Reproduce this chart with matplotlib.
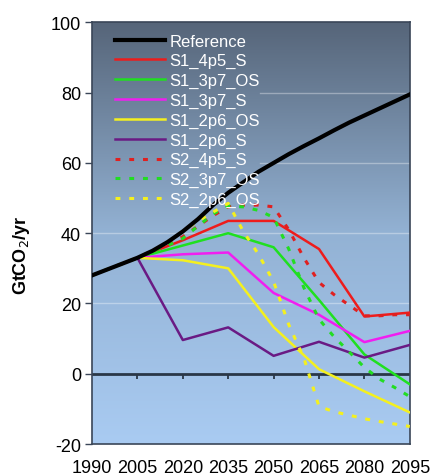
import numpy as np
import matplotlib
matplotlib.use("Agg")
import matplotlib.pyplot as plt
from matplotlib.colors import LinearSegmentedColormap

plt.rcParams['font.family'] = ['Liberation Sans', 'DejaVu Sans']
plt.rcParams['axes.unicode_minus'] = False

# ----------------------------------------
# Data (GtCO2/yr)
# ----------------------------------------
years_s1 = [1990, 2005, 2020, 2035, 2050, 2065, 2080, 2095]
years_fine = [1990, 2005, 2010, 2015, 2020, 2025, 2030, 2035, 2040, 2045, 2050,
              2055, 2060, 2065, 2070, 2075, 2080, 2085, 2090, 2095]

reference = [28, 33, 35, 37.5, 40.5, 44, 48, 51.5, 54.5, 57.5, 60,
             62.5, 64.8, 67, 69.3, 71.5, 73.5, 75.5, 77.5, 79.5]

s1_4p5_s = [28, 33, 38, 43.5, 43.5, 35.5, 16.3, 17.4]
s1_3p7_os = [28, 33, 36.5, 40, 36, 21, 5.5, -3]
s1_3p7_s = [28, 33, 34, 34.5, 23, 16.8, 9, 12.2]
s1_2p6_os = [28, 33, 32.3, 30, 13.3, 1.3, -5, -11]
s1_2p6_s = [28, 33, 9.6, 13.2, 5.1, 9.1, 4.6, 8.2]

s2_4p5_s = [28, 33, 35, 37, 39, 42, 45, 47.5, 48, 48, 47.5,
            41, 33, 26, 22.5, 19.5, 16.5, 16.5, 16.8, 16.8]
s2_3p7_os = [28, 33, 35, 36.5, 38.5, 42, 45.5, 47.7, 47.5, 46.5, 44.5,
             35.5, 24.5, 15.5, 10.5, 6.2, 1.8, -1.5, -3.9, -6.5]
s2_2p6_os = [28, 33, 35, 37.5, 40.5, 43.5, 46, 48.5, 40.5, 34, 26.2,
             14, 4.5, -9.3, -10.8, -11.8, -12.8, -13.6, -14.3, -15]

xticks = [1990, 2005, 2020, 2035, 2050, 2065, 2080, 2095]
yticks = [-20, 0, 20, 40, 60, 80, 100]

# ----------------------------------------
# Plot
# ----------------------------------------
fig = plt.figure(figsize=(4.30, 4.77), dpi=100)
ax = fig.add_axes([0.214, 0.067, 0.739, 0.884])

# gradient background
bg = LinearSegmentedColormap.from_list("bg", ["#a9cbf2", "#93b2d4", "#566579"])
grad = np.linspace(0, 1, 256).reshape(-1, 1)
ax.imshow(grad, cmap=bg, origin="lower", aspect="auto",
          extent=[1990, 2095, -20, 100], zorder=0)

for g in [20, 40]:
    ax.axhline(g, color="white", lw=1, alpha=0.35, zorder=1)
for g in [60, 80]:
    ax.axhline(g, color="white", lw=1, alpha=0.35, xmin=0.53, zorder=1)

# zero line with ticks
ax.axhline(0, color="#2a3747", lw=2, zorder=2)
ax.vlines(xticks[1:-1], -1.6, 0, color="#2a3747", lw=1.3, zorder=2)

dot = (0, (1.6, 2.9))
ax.plot(years_fine, reference, color="black", lw=3, label="Reference", zorder=5)
ax.plot(years_s1, s1_4p5_s, color="#ee1c1c", lw=1.8, label="S1_4p5_S", zorder=4)
ax.plot(years_s1, s1_3p7_os, color="#1fe01f", lw=1.8, label="S1_3p7_OS", zorder=4)
ax.plot(years_s1, s1_3p7_s, color="#f01ef0", lw=1.8, label="S1_3p7_S", zorder=4)
ax.plot(years_s1, s1_2p6_os, color="#f4f01e", lw=1.8, label="S1_2p6_OS", zorder=4)
ax.plot(years_s1, s1_2p6_s, color="#6a1a84", lw=1.8, label="S1_2p6_S", zorder=4)
ax.plot(years_fine, s2_4p5_s, color="#e02020", lw=2.2, ls=dot, label="S2_4p5_S", zorder=4)
ax.plot(years_fine, s2_3p7_os, color="#22dd22", lw=2.2, ls=dot, label="S2_3p7_OS", zorder=4)
ax.plot(years_fine, s2_2p6_os, color="#f4f01e", lw=2.2, ls=dot, label="S2_2p6_OS", zorder=4)

ax.set_xlim(1990, 2095)
ax.set_ylim(-20, 100)
ax.set_xticks(xticks)
ax.set_yticks(yticks)
ax.tick_params(axis="x", length=0, pad=11, labelsize=13)
ax.tick_params(axis="y", length=5, width=1, color="#3a4658", labelsize=13, pad=3)
for s in ax.spines.values():
    s.set_color("#3a4658")
    s.set_linewidth(1.2)

ax.set_ylabel("GtCO$_2$/yr", fontsize=13, fontweight="bold")
ax.yaxis.set_label_coords(-0.19, 0.45)

leg = ax.legend(loc="upper left", bbox_to_anchor=(0.04, 0.997), frameon=False,
                fontsize=12, handlelength=3.0, handletextpad=0.3, labelspacing=0.28,
                borderaxespad=0.2)
for t in leg.get_texts():
    t.set_color("white")

fig.savefig("out.png", dpi=100)
